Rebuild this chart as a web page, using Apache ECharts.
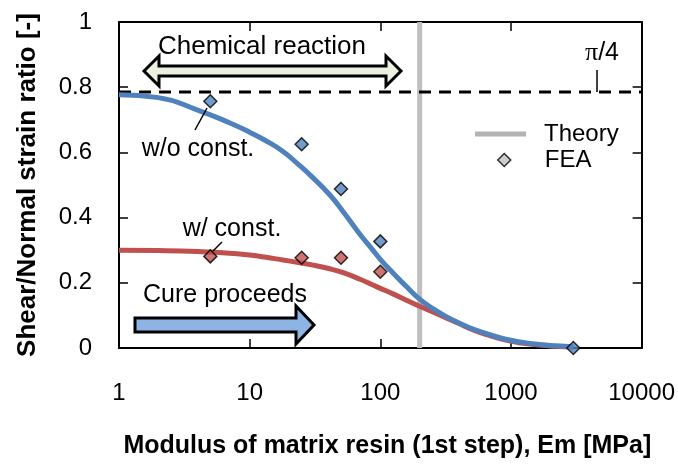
<!DOCTYPE html>
<html>
<head>
<meta charset="utf-8">
<script src="https://cdn.jsdelivr.net/npm/echarts@6/dist/echarts.min.js"></script>
<style>
  html, body { margin: 0; padding: 0; background: #fff; }
  #chart { width: 678px; height: 464px; }
</style>
</head>
<body>
<div id="chart"></div>
<script>
// Modulus of matrix resin Em [MPa] sampled along the theory curves
const emGrid = [1, 2, 4, 7, 10, 13, 18, 23, 30, 41, 52, 70, 87, 100, 125, 157, 200, 250, 317, 400, 507, 700, 912, 1200, 1640, 2200, 3000];
// Theory, without constraint
const theoryNoConst = [0.777, 0.768, 0.730, 0.691, 0.662, 0.638, 0.603, 0.567, 0.525, 0.470, 0.418, 0.348, 0.302, 0.272, 0.230, 0.190, 0.150, 0.122, 0.097, 0.077, 0.059, 0.040, 0.027, 0.018, 0.011, 0.007, 0.004];
// Theory, with constraint
const theoryConst = [0.300, 0.299, 0.296, 0.291, 0.285, 0.279, 0.270, 0.263, 0.255, 0.243, 0.231, 0.211, 0.194, 0.183, 0.166, 0.147, 0.128, 0.111, 0.093, 0.075, 0.056, 0.037, 0.024, 0.015, 0.009, 0.005, 0.002];

// FEA results
const feaEmNoConst = [5, 25, 50, 100, 3000];
const feaNoConst = [0.757, 0.625, 0.488, 0.327, 0.0];
const feaEmConst = [5, 25, 50, 100];
const feaConst = [0.281, 0.277, 0.277, 0.234];

// Theoretical transition modulus and the pi/4 limit
const theoryEm = 200;
const limitRatio = Math.PI / 4;

// Axis ranges and tick labels
const xRange = [1, 10000];
const yTicks = [0, 0.2, 0.4, 0.6, 0.8, 1];

const FONT = "'Liberation Sans', Arial, sans-serif";
const BLUE = '#4f81bd';
const RED = '#c0504d';
const GREY = '#bfbfbf';

const zip = (xs, ys) => xs.map((x, i) => [x, ys[i]]);

const chart = echarts.init(document.getElementById('chart'), null, { renderer: 'canvas' });

const frameAxis = {
  axisLine: { show: true, onZero: false, lineStyle: { color: '#000', width: 2 } },
  axisTick: { show: true, inside: true, length: 9, lineStyle: { color: '#000', width: 1.5 } },
  splitLine: { show: false },
  minorTick: { show: false }
};

const option = {
  animation: false,
  backgroundColor: '#fff',
  textStyle: { fontFamily: FONT, color: '#000' },
  grid: { left: 119, right: 35, top: 22, bottom: 114, containLabel: false },
  xAxis: [
    Object.assign({}, frameAxis, {
      type: 'log', logBase: 10, min: xRange[0], max: xRange[1], position: 'bottom',
      axisLabel: {
        show: true, fontSize: 24, color: '#000', fontFamily: FONT, margin: 33,
        formatter: v => String(Math.round(v))
      },
      name: 'Modulus of matrix resin (1st step), Em [MPa]',
      nameLocation: 'middle', nameGap: 86,
      nameTextStyle: { fontSize: 25, fontWeight: 'bold', color: '#000', fontFamily: FONT, padding: [0, 0, 0, 14] }
    }),
    Object.assign({}, frameAxis, {
      type: 'log', logBase: 10, min: xRange[0], max: xRange[1], position: 'top',
      axisLabel: { show: false }
    })
  ],
  yAxis: [
    Object.assign({}, frameAxis, {
      type: 'value', min: yTicks[0], max: yTicks[yTicks.length - 1], interval: yTicks[1] - yTicks[0], position: 'left',
      axisLabel: { show: true, fontSize: 24, color: '#000', fontFamily: FONT, margin: 27 },
      name: 'Shear/Normal strain ratio [-]',
      nameLocation: 'middle', nameGap: 78,
      nameTextStyle: { fontSize: 26, fontWeight: 'bold', color: '#000', fontFamily: FONT }
    }),
    Object.assign({}, frameAxis, {
      type: 'value', min: yTicks[0], max: yTicks[yTicks.length - 1], interval: yTicks[1] - yTicks[0], position: 'right',
      axisLabel: { show: false }
    })
  ],
  legend: [
    {
      data: [{ name: 'Theory', icon: 'rect', itemStyle: { color: '#b3b3b3' } }],
      left: 475, top: 122, orient: 'vertical', padding: 0,
      itemWidth: 51, itemHeight: 5, selectedMode: false,
      textStyle: { fontSize: 24, color: '#000', fontFamily: FONT, padding: [0, 0, 0, 13] }
    },
    {
      data: [{ name: 'FEA', icon: 'diamond', itemStyle: { color: '#c0c0c0', borderColor: '#000', borderWidth: 1.5 } }],
      left: 497, top: 148, orient: 'vertical', padding: 0,
      itemWidth: 13, itemHeight: 13, selectedMode: false,
      textStyle: { fontSize: 24, color: '#000', fontFamily: FONT, padding: [0, 0, 0, 29] }
    }
  ],
  series: [
    {
      name: 'Theory', type: 'line', data: [[theoryEm, yTicks[0]], [theoryEm, yTicks[yTicks.length - 1]]],
      symbol: 'none', lineStyle: { color: GREY, width: 5 }, itemStyle: { color: GREY }, z: 1, silent: true
    },
    {
      name: 'pi/4', type: 'line', data: [[xRange[0], limitRatio], [xRange[1], limitRatio]],
      symbol: 'none', lineStyle: { color: '#000', width: 3, type: [12, 8] }, z: 2, silent: true
    },
    {
      name: 'Theory w/ const.', type: 'line', data: zip(emGrid, theoryConst),
      symbol: 'none', smooth: 0.5, lineStyle: { color: RED, width: 5 }, z: 3, silent: true
    },
    {
      name: 'Theory w/o const.', type: 'line', data: zip(emGrid, theoryNoConst),
      symbol: 'none', smooth: 0.5, lineStyle: { color: BLUE, width: 5 }, z: 4, silent: true
    },
    {
      name: 'FEA', type: 'scatter', data: zip(feaEmConst, feaConst),
      symbol: 'diamond', symbolSize: 13,
      itemStyle: { color: RED, borderColor: '#000', borderWidth: 1.5 }, z: 5
    },
    {
      name: 'FEA', type: 'scatter', data: zip(feaEmNoConst, feaNoConst),
      symbol: 'diamond', symbolSize: 13,
      itemStyle: { color: BLUE, borderColor: '#000', borderWidth: 1.5 }, z: 5
    }
  ],
  graphic: [
    // Chemical reaction double arrow
    {
      type: 'polygon', z: 10,
      shape: { points: [[144, 71], [159, 56], [159, 66], [386, 66], [386, 56], [401, 71], [386, 86], [386, 76], [159, 76], [159, 86]] },
      style: { fill: '#ebf1de', stroke: '#000', lineWidth: 3, lineJoin: 'miter' }
    },
    {
      type: 'text', z: 10,
      style: { text: 'Chemical reaction', x: 262, y: 47, align: 'center', verticalAlign: 'middle', font: '26px ' + FONT, fill: '#000' }
    },
    // Cure direction arrow
    {
      type: 'polygon', z: 10,
      shape: { points: [[135, 318], [296, 318], [296, 306], [314, 325], [296, 344], [296, 332], [135, 332]] },
      style: { fill: '#8db4e2', stroke: '#000', lineWidth: 3, lineJoin: 'miter' }
    },
    {
      type: 'text', z: 10,
      style: { text: 'Cure proceeds', x: 225, y: 295, align: 'center', verticalAlign: 'middle', font: '25px ' + FONT, fill: '#000' }
    },
    // Curve labels with leaders
    {
      type: 'text', z: 10,
      style: { text: 'w/o const.', x: 198, y: 149, align: 'center', verticalAlign: 'middle', font: '25px ' + FONT, fill: '#000' }
    },
    { type: 'line', z: 10, shape: { x1: 195, y1: 130, x2: 207, y2: 108 }, style: { stroke: '#000', lineWidth: 1.5 } },
    {
      type: 'text', z: 10,
      style: { text: 'w/ const.', x: 232, y: 229, align: 'center', verticalAlign: 'middle', font: '25px ' + FONT, fill: '#000' }
    },
    { type: 'line', z: 10, shape: { x1: 213, y1: 251, x2: 222, y2: 242 }, style: { stroke: '#000', lineWidth: 1.5 } },
    // pi/4 label
    {
      type: 'text', z: 10,
      style: {
        text: '{p|π}{s|/4}', x: 602, y: 53, align: 'center', verticalAlign: 'middle',
        rich: {
          p: { fontFamily: "'Liberation Serif', 'Times New Roman', serif", fontSize: 26, fill: '#000' },
          s: { fontFamily: FONT, fontSize: 25, fill: '#000' }
        }
      }
    },
    { type: 'line', z: 10, shape: { x1: 597, y1: 70, x2: 597, y2: 92 }, style: { stroke: '#000', lineWidth: 1.5 } }
  ]
};

chart.setOption(option);
</script>
</body>
</html>
